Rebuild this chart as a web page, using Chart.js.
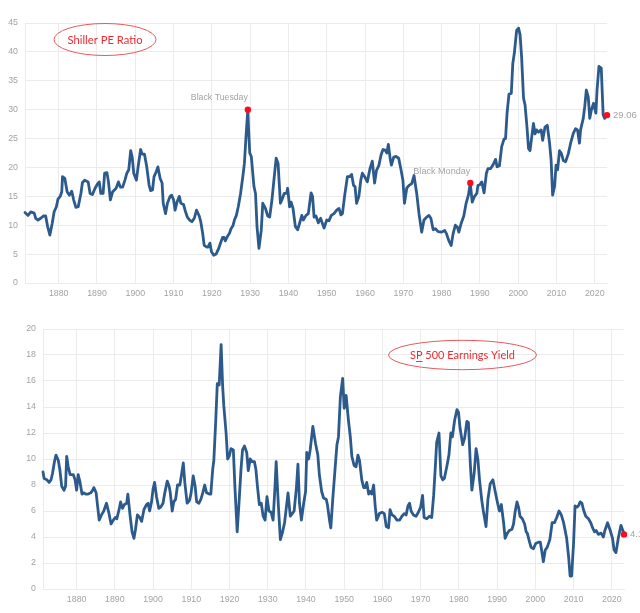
<!DOCTYPE html>
<html>
<head>
<meta charset="utf-8">
<script src="https://cdn.jsdelivr.net/npm/chart.js@4/dist/chart.umd.min.js"></script>
<style>
html,body{margin:0;padding:0;background:#fff;width:640px;height:613px;overflow:hidden}
canvas{position:absolute;left:0;display:block}
#c1{top:0}
#c2{top:305px}
</style>
</head>
<body>
<canvas id="c1" width="640" height="300"></canvas>
<canvas id="c2" width="640" height="308"></canvas>
<script>
// ---------- data ----------
const xTickYears = [1880,1890,1900,1910,1920,1930,1940,1950,1960,1970,1980,1990,2000,2010,2020];
const peTicks = [0,5,10,15,20,25,30,35,40,45];
const eyTicks = [0,2,4,6,8,10,12,14,16,18,20];

const peYears = [1871.2,1872.0,1872.7,1873.6,1874.0,1874.6,1875.3,1876.0,1876.6,1877.1,1877.7,1878.3,1878.8,1879.4,1879.8,
1880.4,1880.8,1881.0,1881.6,1882.2,1882.8,1883.4,1883.9,1884.5,1885.1,1885.8,1886.2,1886.8,1887.7,1888.2,1888.8,1889.5,
1890.1,1890.6,1891.0,1891.6,1892.0,1892.6,1893.0,1893.5,1894.1,1895.0,1895.6,1896.1,1896.7,1897.3,1897.8,1898.3,1898.8,1899.2,1899.6,
1900.3,1900.8,1901.4,1901.8,1902.4,1903.0,1903.6,1904.0,1904.5,1904.9,1905.5,1905.9,1906.5,1907.0,1907.3,1907.9,1908.4,1909.1,1909.5,
1910.0,1910.4,1910.9,1911.5,1911.9,1912.6,1913.0,1913.6,1914.2,1914.8,1915.4,1916.0,1916.7,1917.1,1917.6,1918.0,1918.7,1919.0,1919.5,1919.9,
1920.5,1921.1,1921.8,1922.2,1922.8,1923.2,1923.5,1924.1,1924.6,1925.0,1925.5,1925.9,1926.4,1926.9,1927.5,1928.2,1928.5,1929.0,1929.4,1929.6,1929.9,
1930.3,1931.0,1931.4,1931.8,1932.3,1932.9,1933.3,1934.0,1934.6,1935.1,1935.7,1936.3,1936.8,1937.3,1937.9,1938.3,1938.9,1939.5,1939.8,
1940.3,1940.7,1941.2,1941.8,1942.4,1942.9,1943.5,1943.9,1944.6,1945.2,1945.9,1946.3,1946.7,1947.2,1947.8,1948.4,1949.3,
1950.0,1950.6,1951.2,1951.9,1952.6,1953.2,1953.7,1954.1,1954.7,1955.4,1956.0,1956.5,1957.0,1957.4,1957.8,1958.4,1958.9,1959.3,1959.9,
1960.6,1961.3,1961.9,1962.5,1963.0,1963.6,1964.2,1964.7,1965.3,1965.7,1966.1,1966.6,1966.9,1967.5,1968.1,1968.8,1969.4,1969.9,
1970.3,1970.9,1971.5,1972.2,1972.8,1973.5,1974.1,1974.8,1975.4,1976.1,1976.7,1977.2,1977.8,1978.4,1979.1,
1980.0,1980.8,1981.3,1981.9,1982.5,1983.0,1983.6,1984.1,1984.5,1985.1,1985.8,1986.4,1987.0,1987.5,1988.0,1988.6,1989.2,1989.5,
1990.0,1990.5,1991.1,1991.7,1992.1,1992.8,1993.4,1994.1,1994.5,1995.1,1995.7,1996.3,1996.7,1997.1,1997.6,1998.2,1998.6,1999.0,1999.6,
2000.1,2000.5,2000.9,2001.4,2001.8,2002.3,2002.7,2003.1,2003.6,2004.0,2004.4,2004.8,2005.3,2006.0,2006.4,2007.0,2007.6,2008.2,2008.6,2009.0,2009.5,2009.9,
2010.3,2010.8,2011.3,2011.8,2012.4,2013.1,2013.7,2014.4,2015.0,2015.5,2016.0,2016.3,2017.0,2017.4,2017.8,2018.3,2018.7,2019.1,2019.7,
2020.3,2020.6,2021.1,2021.7,2022.2,2022.6,2023.2];
const peValues = [12.2,11.7,12.3,12.1,11.2,10.9,11.2,11.6,11.6,9.8,8.3,10.3,12.3,13.2,14.5,
15.0,15.8,18.4,18.1,15.8,15.2,15.9,14.4,13.1,13.2,15.5,17.4,17.8,17.5,15.5,15.3,16.4,
17.1,17.5,15.5,15.5,19.0,19.1,17.5,14.4,15.8,16.4,17.5,16.6,16.6,17.8,19.0,19.6,22.9,21.8,19.0,
17.8,20.4,23.1,22.3,22.3,20.1,17.0,16.0,16.1,18.4,19.3,20.1,18.1,17.3,13.8,12.0,13.8,15.0,15.2,
14.4,12.6,14.0,15.0,13.8,13.6,12.6,11.4,10.9,10.6,11.2,12.6,11.6,10.6,8.6,6.5,6.2,6.2,6.9,5.4,
4.8,5.0,6.0,6.8,7.9,7.9,7.3,8.1,8.6,9.4,9.9,10.9,11.7,13.2,15.5,19.0,20.7,26.2,30.0,26.5,22.5,
21.9,16.7,15.5,9.7,6.0,9.1,13.8,12.9,11.6,11.4,14.4,18.4,21.6,20.7,13.8,14.4,15.5,15.5,16.4,
13.2,14.0,12.9,9.8,9.2,10.3,11.7,10.9,11.7,12.0,15.6,15.0,11.4,11.6,10.4,11.2,9.5,
10.9,10.8,11.7,12.0,12.6,12.9,11.8,12.0,15.2,18.4,18.4,18.8,16.9,16.7,13.8,15.0,17.8,19.0,18.4,
17.5,19.8,21.1,17.3,19.5,20.3,22.2,23.1,23.0,22.5,24.0,21.4,20.4,21.8,21.9,21.6,19.6,17.8,
13.8,16.4,16.9,17.2,18.6,15.5,12.0,8.8,10.9,11.4,11.7,11.2,9.2,9.4,8.9,
8.8,9.1,8.5,7.3,6.5,8.5,10.0,9.7,8.8,10.3,11.6,13.8,15.2,17.3,14.0,15.0,15.5,16.9,
17.0,17.5,15.6,19.0,19.8,19.8,20.4,21.4,20.1,20.3,23.6,24.9,25.0,29.4,32.7,32.8,38.0,39.8,43.7,
44.1,43.0,39.1,32.0,30.8,27.0,23.3,22.9,25.6,27.6,25.8,26.5,26.1,26.5,24.7,27.0,27.3,24.2,21.3,15.2,16.7,20.4,
19.6,22.9,22.4,21.2,21.0,22.4,24.2,25.9,26.7,26.5,24.2,26.5,28.5,30.6,33.4,32.2,28.5,29.9,31.1,
29.4,33.4,37.5,37.2,29.1,28.5,29.06];
const peMarkYears = [1929.4, 1987.5, 2023.2];
const peMarkLabels = ['Black Tuesday', 'Black Monday', '29.06'];

const eyYears = [1871.2,1871.5,1872.2,1872.8,1873.3,1873.7,1874.2,1874.6,1875.2,1875.6,1876.1,1876.7,1877.1,1877.4,1877.8,1878.3,1879.1,1879.6,
1880.0,1880.4,1880.9,1881.4,1881.9,1882.4,1883.0,1883.7,1884.2,1884.5,1885.1,1885.4,1885.9,1886.5,1887.1,1887.8,1888.4,1889.0,1889.6,
1890.1,1890.5,1891.1,1891.5,1892.0,1892.5,1893.1,1893.4,1894.0,1894.5,1895.0,1895.4,1895.9,1896.5,1897.0,1897.6,1898.3,1898.7,1899.1,1899.6,
1900.0,1900.4,1900.9,1901.5,1902.0,1902.6,1903.0,1903.7,1904.2,1904.5,1905.0,1905.4,1905.9,1906.4,1907.0,1907.5,1907.9,1908.3,1908.9,1909.5,1909.9,
1910.5,1911.0,1911.4,1912.0,1912.5,1913.0,1913.5,1914.0,1914.7,1915.1,1915.6,1915.9,1916.4,1916.8,1917.3,1917.8,1918.2,1918.5,1919.1,1919.5,1919.9,
1920.4,1921.0,1921.4,1922.0,1922.5,1923.0,1923.4,1923.9,1924.5,1924.9,1925.4,1925.9,1926.5,1926.9,1927.3,1927.8,1928.3,1928.8,1929.3,1929.8,
1930.3,1930.9,1931.4,1931.9,1932.2,1932.8,1933.3,1933.8,1934.4,1934.8,1935.3,1935.9,1936.4,1936.9,1937.5,1937.9,1938.3,1938.8,1939.4,1939.9,
1940.2,1940.7,1941.1,1941.8,1942.5,1943.1,1943.5,1944.1,1944.6,1945.3,1945.6,1946.2,1946.5,1947.0,1947.6,1948.1,1948.5,1949.0,1949.6,
1950.0,1950.5,1951.1,1951.6,1952.0,1952.6,1953.1,1953.6,1954.0,1954.6,1955.1,1955.5,1955.9,1956.4,1956.8,1957.2,1957.7,1958.1,1958.5,1959.2,1959.9,
1960.5,1961.0,1961.6,1962.0,1962.5,1963.1,1963.8,1964.5,1965.1,1965.7,1966.2,1966.7,1967.1,1967.5,1968.1,1968.8,1969.4,
1970.0,1970.5,1970.9,1971.6,1972.3,1972.9,1973.4,1973.8,1974.2,1974.8,1975.3,1975.8,1976.2,1976.9,1977.4,1977.9,1978.3,1978.9,1979.5,1979.9,
1980.3,1981.0,1981.5,1982.1,1982.5,1983.0,1983.4,1984.0,1984.5,1985.0,1985.4,1986.0,1986.4,1987.1,1987.6,1988.2,1988.9,1989.5,
1990.2,1990.6,1991.1,1991.7,1992.1,1992.7,1993.2,1993.9,1994.3,1994.7,1995.2,1995.6,1996.0,1996.6,1997.2,1997.6,1997.9,1998.5,1998.9,1999.5,
2000.1,2000.8,2001.3,2001.7,2002.1,2002.6,2003.1,2003.8,2004.4,2005.0,2005.6,2006.2,2006.8,2007.4,2007.8,2008.2,2008.7,2009.1,2009.5,
2010.0,2010.4,2010.9,2011.3,2011.7,2012.2,2012.6,2013.2,2013.9,2014.5,2015.0,2015.5,2015.9,2016.5,2017.2,2017.8,2018.2,2018.9,2019.6,
2020.2,2020.6,2021.1,2021.7,2022.4,2022.9,2023.2];
const eyValues = [9.0,8.5,8.4,8.2,8.4,8.9,9.8,10.3,9.9,9.2,7.9,7.6,7.9,10.2,9.4,8.8,8.8,8.4,
7.6,8.8,8.2,7.3,7.4,7.3,7.3,7.4,7.6,7.8,7.4,6.6,5.3,5.7,6.0,6.6,5.9,5.0,5.3,
5.5,5.4,6.1,6.7,6.2,6.5,6.6,7.3,5.6,4.4,3.9,4.6,5.7,5.5,5.2,6.1,6.5,6.6,6.0,6.7,
7.7,8.2,7.1,6.2,6.3,6.6,7.3,8.3,7.9,7.4,6.0,6.7,6.9,8.0,8.0,8.9,9.7,8.2,6.6,6.8,7.3,
8.7,7.9,6.7,6.6,6.9,7.4,8.0,7.4,7.3,7.3,9.2,9.9,13.0,15.8,15.7,18.8,15.6,14.1,12.0,10.0,10.2,
10.8,10.7,7.9,4.4,6.7,9.2,10.7,11.0,10.5,9.1,10.0,9.8,9.8,9.2,7.9,6.5,6.6,5.6,5.3,7.1,
6.0,5.9,5.3,7.9,9.8,6.3,3.8,4.3,5.1,6.1,7.4,5.6,5.8,6.0,7.8,9.6,6.6,5.3,6.6,7.5,
10.5,10.0,10.7,12.5,11.2,10.3,8.8,7.5,7.0,6.9,6.5,5.2,4.7,6.9,9.2,11.1,11.7,14.8,16.2,
13.9,14.9,13.0,11.7,10.2,9.5,9.4,10.3,9.9,8.4,7.8,7.8,8.2,7.3,7.5,7.3,8.0,6.4,5.3,5.8,5.9,
5.8,4.8,4.7,6.1,5.7,5.6,5.3,5.3,5.6,5.8,5.7,6.4,6.6,6.0,5.7,5.6,5.9,
6.3,7.2,5.5,5.4,5.6,5.5,7.2,9.2,11.3,12.0,8.7,8.4,8.5,9.5,10.3,12.0,11.7,13.0,13.8,13.6,
12.4,11.1,11.6,12.9,12.8,9.6,7.6,8.9,10.8,9.9,8.4,6.8,6.0,4.8,6.9,8.1,8.4,7.5,
6.5,6.0,6.5,5.1,3.9,4.3,4.5,4.6,5.0,5.9,6.7,6.3,5.6,5.4,5.0,4.4,4.3,3.6,3.2,3.1,
3.5,3.6,3.6,2.9,2.1,3.0,3.2,3.8,5.1,5.1,5.5,6.0,5.7,5.1,4.5,3.9,2.5,1.0,1.0,
3.5,6.4,6.3,6.4,6.7,6.6,6.1,5.6,5.4,5.1,4.7,4.4,4.5,4.2,4.3,4.0,4.5,5.1,4.5,
3.9,3.0,2.8,3.9,4.9,4.5,4.2];
const eyMarkYears = [2023.2];
const eyMarkLabels = ['4.18'];

// ---------- styling ----------
const X_MIN = 1871.2, X_MAX = 2023.2;
const FONT = "'Liberation Sans', Arial, sans-serif";
const TICK = '#a3a3a3';
const GRID = '#ebebeb';
const LINE = '#2c5a8c';
const DOT = '#ff0a1e';

function decorPlugin(cfg){
  return {
    id:'decor',
    afterDatasetsDraw(chart){
      const c = chart.ctx, xs = chart.scales.x, ys = chart.scales.y, a = chart.chartArea;
      cfg.markYears.forEach((yr,k)=>{
        const i = cfg.years.indexOf(yr);
        const px = xs.getPixelForValue(yr), py = ys.getPixelForValue(cfg.values[i]);
        const label = cfg.markLabels[k];
        c.save();
        c.fillStyle = TICK; c.textBaseline = 'middle';
        c.font = '9.5px ' + FONT;
        if (k === cfg.markYears.length - 1) {
          c.textAlign = 'left';
          c.fillText(label, px + 6, py);
        } else {
          c.textAlign = 'right';
          c.fillText(label, px, py - 12, 57);
        }
        c.restore();
      });
      const t = cfg.title;
      const cx = a.left + t.dx, cy = a.top + t.dy;
      c.save();
      c.beginPath();
      c.ellipse(cx, cy, t.rx, t.ry, 0, 0, Math.PI*2);
      c.strokeStyle = '#e8585c'; c.lineWidth = 1; c.stroke();
      c.font = t.size + "px Lato, 'Open Sans', sans-serif";
      c.fillStyle = '#f0282e';
      c.textBaseline = 'middle';
      const w = c.measureText(t.text).width;
      const sx = Math.min(1, t.w / w);
      c.translate(cx, cy + 0.5);
      c.scale(sx, 1);
      c.textAlign = 'left';
      c.fillText(t.text, -w/2, 0);
      if (t.underline != null) {
        const x0 = c.measureText(t.text.slice(0, t.underline)).width;
        const x1 = c.measureText(t.text.slice(0, t.underline + 1)).width;
        c.beginPath();
        c.moveTo(-w/2 + x0, 6); c.lineTo(-w/2 + x1, 6);
        c.strokeStyle = '#f0282e'; c.lineWidth = 1; c.stroke();
      }
      c.restore();
    }
  };
}

function buildChart(id, cfg){
  return new Chart(document.getElementById(id), {
    type:'line',
    data:{datasets:[{
      data: cfg.years.map((x,i)=>({x:x, y:cfg.values[i]})),
      borderColor: LINE, borderWidth: 2.8, tension: 0, clip: false,
      borderJoinStyle:'round', borderCapStyle:'round',
      pointRadius: cfg.years.map(x => cfg.markYears.includes(x) ? 3.2 : 0),
      pointHoverRadius: 0,
      pointBackgroundColor: DOT, pointBorderWidth: 0
    }]},
    options:{
      responsive:false, animation:false, devicePixelRatio:1, events:[],
      layout:{padding: cfg.padding},
      plugins:{legend:{display:false}, tooltip:{enabled:false}},
      scales:{
        x:{type:'linear', min:X_MIN, max:X_MAX,
          afterBuildTicks: s => { s.ticks = xTickYears.map(v => ({value:v})); },
          afterFit: s => { s.height = 17; },
          ticks:{color:TICK, font:{size:8.8, family:FONT}, padding:5, maxRotation:0, autoSkip:false, callback:v => String(v)},
          grid:{color:GRID, drawTicks:false, lineWidth:1},
          border:{color:GRID}},
        y:{min:0, max:cfg.yTicks[cfg.yTicks.length-1],
          afterBuildTicks: s => { s.ticks = cfg.yTicks.map(v => ({value:v})); },
          afterFit: s => { s.width = cfg.yWidth; },
          ticks:{color:TICK, font:{size:8.8, family:FONT}, padding:7, callback:v => String(v)},
          grid:{color:GRID, drawTicks:false, lineWidth:1},
          border:{color:GRID}}
      }
    },
    plugins:[decorPlugin(cfg)]
  });
}

buildChart('c1', {
  years: peYears, values: peValues, yTicks: peTicks,
  markYears: peMarkYears, markLabels: peMarkLabels,
  yWidth: 25,
  padding: {top:23, right:33, bottom:0, left:0},
  title: {text:'Shiller PE Ratio', dx:80, dy:16.5, rx:51, ry:16, w:75, size:12, underline:null}
});
buildChart('c2', {
  years: eyYears, values: eyValues, yTicks: eyTicks,
  markYears: eyMarkYears, markLabels: eyMarkLabels,
  yWidth: 43,
  padding: {top:24, right:16, bottom:7, left:0},
  title: {text:'SP 500 Earnings Yield', dx:419.5, dy:26, rx:74, ry:14.7, w:105, size:12, underline:1}
});
</script>
</body>
</html>
